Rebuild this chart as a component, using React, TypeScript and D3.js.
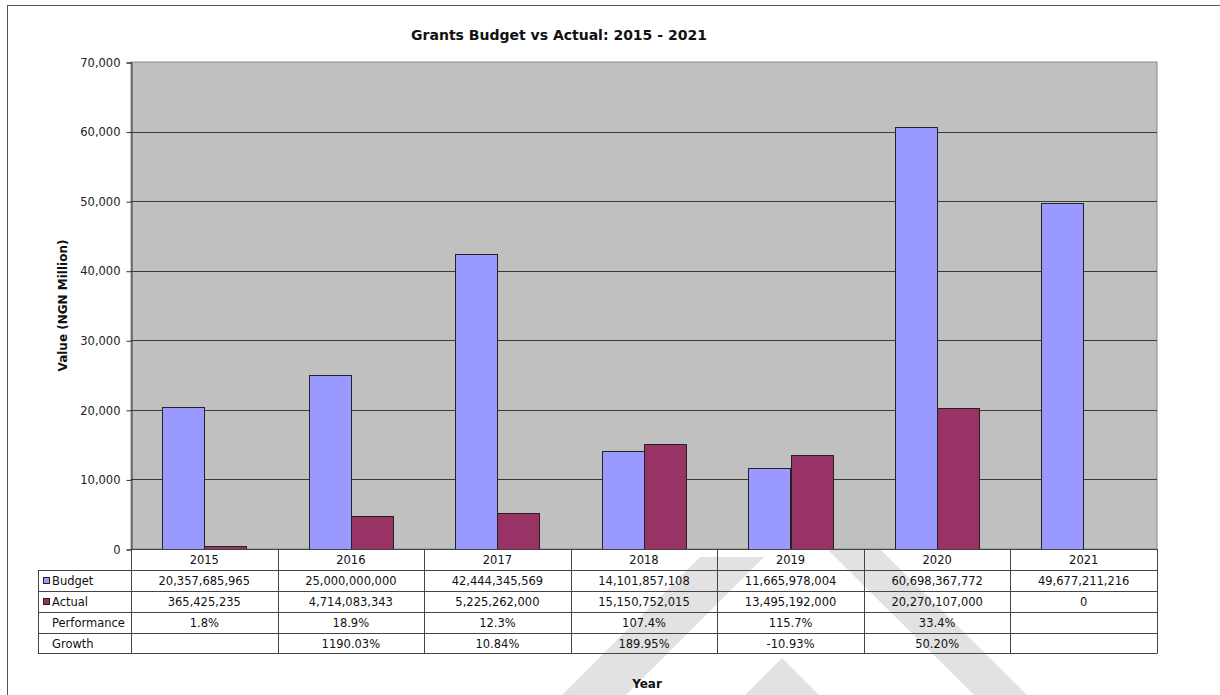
import React, { useEffect, useRef } from 'react'
import * as d3 from 'd3'

// Data (NGN)
const years = ['2015', '2016', '2017', '2018', '2019', '2020', '2021']
const budget = [20357685965, 25000000000, 42444345569, 14101857108, 11665978004, 60698367772, 49677211216]
const actual = [365425235, 4714083343, 5225262000, 15150752015, 13495192000, 20270107000, 0]
const performance = ['1.8%', '18.9%', '12.3%', '107.4%', '115.7%', '33.4%', '']
const growth = ['', '1190.03%', '10.84%', '189.95%', '-10.93%', '50.20%', '']
const yTicks = [0, 10000, 20000, 30000, 40000, 50000, 60000, 70000]

const seriesNames = ['Budget', 'Actual']
const seriesColors = ['#9999FF', '#993366']

const FONT = '"DejaVu Sans", Verdana, sans-serif'

const App: React.FC = () => {
  const ref = useRef<SVGSVGElement | null>(null)

  useEffect(() => {
    const svg = d3.select(ref.current)
    svg.selectAll('*').remove()

    const W = 1220
    const H = 695
    const plot = { left: 131, right: 1157, top: 62, bottom: 549 }
    const rowH = 21
    const labelLeft = 38

    // outer chart border
    svg
      .append('rect')
      .attr('x', 7.5)
      .attr('y', 5.5)
      .attr('width', W + 20)
      .attr('height', H + 20)
      .attr('fill', '#fff')
      .attr('stroke', '#555')

    // watermark bands
    const wm = svg.append('g').attr('fill', '#e2e2e2')
    const bands = [
      [[562, 695], [626, 695], [764, 557], [700, 557]],
      [[827, 549], [880, 549], [1027, 695], [974, 695]],
      [[745, 695], [782, 658], [819, 695]],
    ]
    bands.forEach((b) => wm.append('polygon').attr('points', b.map((p) => p.join(',')).join(' ')))

    const x0 = d3.scaleBand<string>().domain(years).range([plot.left, plot.right])
    const step = x0.bandwidth()
    const x1 = d3.scaleBand<string>().domain(seriesNames).range([31, step - 31])
    const y = d3.scaleLinear().domain([0, 70000]).range([plot.bottom, plot.top])

    // plot background
    svg
      .append('rect')
      .attr('x', plot.left)
      .attr('y', plot.top)
      .attr('width', plot.right - plot.left)
      .attr('height', plot.bottom - plot.top)
      .attr('fill', '#C0C0C0')
      .attr('stroke', '#8a8a8a')

    // gridlines
    svg
      .append('g')
      .selectAll('line')
      .data(yTicks.filter((t) => t > 0 && t < 70000))
      .enter()
      .append('line')
      .attr('x1', plot.left)
      .attr('x2', plot.right)
      .attr('y1', (d) => Math.round(y(d)) + 0.5)
      .attr('y2', (d) => Math.round(y(d)) + 0.5)
      .attr('stroke', '#3a3a3a')

    // bars
    const values = [budget, actual]
    const g = svg.append('g')
    years.forEach((yr, i) => {
      seriesNames.forEach((s, k) => {
        const v = values[k][i] / 1e6
        if (v <= 0) return
        const bx = (x0(yr) as number) + (x1(s) as number)
        g.append('rect')
          .attr('x', Math.round(bx) + 0.5)
          .attr('y', Math.round(y(v)) + 0.5)
          .attr('width', Math.round(x1.bandwidth()))
          .attr('height', Math.round(y(0)) - Math.round(y(v)))
          .attr('fill', seriesColors[k])
          .attr('stroke', '#222')
      })
    })

    // y axis
    const yAxis = d3
      .axisLeft(y)
      .tickValues(yTicks)
      .tickSize(5)
      .tickPadding(6)
      .tickFormat((d) => d3.format(',')(d as number))
    const ya = svg
      .append('g')
      .attr('transform', `translate(${plot.left + 0.5},0.5)`)
      .call(yAxis)
    ya.select('.domain').attr('stroke', '#333')
    ya.selectAll('.tick line').attr('stroke', '#333')
    ya.selectAll('.tick text')
      .attr('fill', '#222')
      .attr('font-family', FONT)
      .attr('font-size', 11.5)

    // data table
    const tbl = svg.append('g').attr('font-family', FONT).attr('font-size', 11.5).attr('fill', '#111')
    const line = (x1p: number, y1p: number, x2p: number, y2p: number) =>
      tbl
        .append('line')
        .attr('x1', x1p)
        .attr('y1', y1p)
        .attr('x2', x2p)
        .attr('y2', y2p)
        .attr('stroke', '#444')
    const tableBottom = plot.bottom + rowH * 5 - 1
    // horizontal lines
    for (let r = 1; r <= 5; r++) {
      const yy = plot.bottom + rowH * r - (r === 5 ? 1 : 0) + 0.5
      line(labelLeft, yy, plot.right, yy)
    }
    line(plot.left, plot.bottom + 0.5, plot.right, plot.bottom + 0.5)
    // vertical lines
    line(labelLeft + 0.5, plot.bottom + rowH + 0.5, labelLeft + 0.5, tableBottom + 0.5)
    years.forEach((yr) => {
      const xx = Math.round(x0(yr) as number) + 0.5
      line(xx, plot.bottom, xx, tableBottom + 0.5)
    })
    line(plot.right + 0.5, plot.bottom, plot.right + 0.5, tableBottom + 0.5)

    const rows: string[][] = [
      years,
      budget.map((v) => d3.format(',')(v)),
      actual.map((v) => d3.format(',')(v)),
      performance,
      growth,
    ]
    rows.forEach((row, r) => {
      row.forEach((txt, i) => {
        tbl
          .append('text')
          .attr('x', (x0(years[i]) as number) + step / 2)
          .attr('y', plot.bottom + rowH * r + 15)
          .attr('text-anchor', 'middle')
          .text(txt)
      })
    })
    const rowLabels = ['Budget', 'Actual', 'Performance', 'Growth']
    rowLabels.forEach((lab, r) => {
      const yy = plot.bottom + rowH * (r + 1)
      if (r < 2) {
        tbl
          .append('rect')
          .attr('x', 43.5)
          .attr('y', yy + 7.5)
          .attr('width', 6)
          .attr('height', 6)
          .attr('fill', seriesColors[r])
          .attr('stroke', '#222')
      }
      tbl
        .append('text')
        .attr('x', 52)
        .attr('y', yy + 15)
        .text(lab)
    })

    // titles
    svg
      .append('text')
      .attr('x', 559)
      .attr('y', 40)
      .attr('text-anchor', 'middle')
      .attr('font-family', FONT)
      .attr('font-weight', 'bold')
      .attr('font-size', 14)
      .attr('fill', '#111')
      .text('Grants Budget vs Actual: 2015 - 2021')

    svg
      .append('text')
      .attr('transform', `translate(67,${(plot.top + plot.bottom) / 2}) rotate(-90)`)
      .attr('text-anchor', 'middle')
      .attr('font-family', FONT)
      .attr('font-weight', 'bold')
      .attr('font-size', 12)
      .attr('fill', '#111')
      .text('Value (NGN Million)')

    svg
      .append('text')
      .attr('x', 647)
      .attr('y', 688)
      .attr('text-anchor', 'middle')
      .attr('font-family', FONT)
      .attr('font-weight', 'bold')
      .attr('font-size', 12)
      .attr('fill', '#111')
      .text('Year')
  }, [])

  return (
    <div style={{ position: 'fixed', left: 0, top: 0 }}>
      <svg ref={ref} width={1220} height={695} style={{ display: 'block' }}></svg>
    </div>
  )
}

export default App
